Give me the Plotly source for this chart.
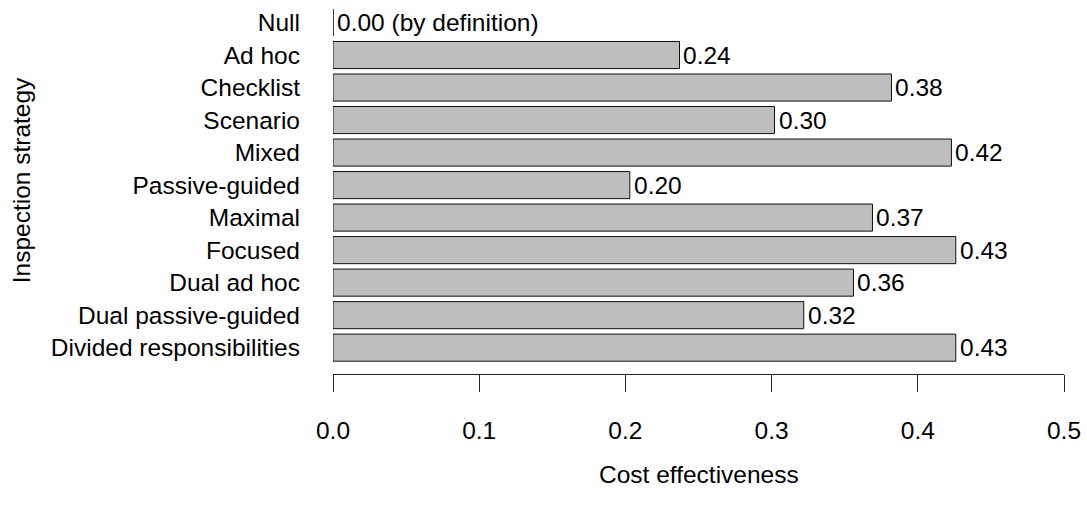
import plotly.graph_objects as go

strategies = ["Null", "Ad hoc", "Checklist", "Scenario", "Mixed", "Passive-guided",
              "Maximal", "Focused", "Dual ad hoc", "Dual passive-guided",
              "Divided responsibilities"]
cost_effectiveness = [0.0, 0.237, 0.382, 0.302, 0.423, 0.203, 0.369, 0.426, 0.356, 0.322, 0.426]
x_ticks = [0.0, 0.1, 0.2, 0.3, 0.4, 0.5]
x_tick_labels = ["0.0", "0.1", "0.2", "0.3", "0.4", "0.5"]
null_note = " (by definition)"

FONT = "Liberation Sans"
FS = 24.5
BAR_W = 0.833

pos = list(range(len(strategies)))
labels = [f"{v:.2f}" + (null_note if s == "Null" else "") for s, v in zip(strategies, cost_effectiveness)]

fig = go.Figure()
fig.add_trace(go.Bar(
    x=cost_effectiveness, y=pos, orientation="h", width=BAR_W,
    marker=dict(color="#bebebe", line=dict(color="#111111", width=1)),
    hoverinfo="skip", showlegend=False,
))

# zero-length bars are drawn as their outline only (a vertical line)
for p, v in zip(pos, cost_effectiveness):
    if v == 0:
        fig.add_shape(type="line", xref="x", yref="y", x0=v, x1=v,
                      y0=p - BAR_W / 2, y1=p + BAR_W / 2,
                      line=dict(color="#333333", width=1))

for p, v, t in zip(pos, cost_effectiveness, labels):
    fig.add_annotation(x=v, y=p, xref="x", yref="y", text=t, showarrow=False,
                       xanchor="left", yanchor="middle", xshift=2,
                       font=dict(family=FONT, size=FS, color="black"))

fig.add_annotation(x=0.5, y=-0.272, xref="paper", yref="paper", text="Cost effectiveness",
                   showarrow=False, xanchor="center", yanchor="middle",
                   font=dict(family=FONT, size=FS, color="black"))
fig.add_annotation(x=-0.425, y=0.523, xref="paper", yref="paper", text="Inspection strategy",
                   showarrow=False, xanchor="center", yanchor="middle", textangle=-90,
                   font=dict(family=FONT, size=FS, color="black"))

fig.update_layout(
    width=1087, height=507,
    margin=dict(l=333, r=23, t=3, b=133, pad=0),
    paper_bgcolor="white", plot_bgcolor="white",
    font=dict(family=FONT, size=FS, color="black"),
    xaxis=dict(range=[0, 0.5], tickvals=x_ticks, ticktext=x_tick_labels,
               showgrid=False, zeroline=False, showline=True, linecolor="#222222",
               linewidth=1, ticks="outside", ticklen=17, tickcolor="#222222",
               ticklabelstandoff=18, fixedrange=True),
    yaxis=dict(range=[10.81, -0.6], tickvals=pos, ticktext=strategies,
               showgrid=False, zeroline=False, showline=False, ticks="",
               ticklabelstandoff=32, fixedrange=True),
)

fig.write_html("out.html", config={"displayModeBar": False, "staticPlot": True},
               post_script="document.body.style.margin='0';document.body.style.overflow='hidden';")
